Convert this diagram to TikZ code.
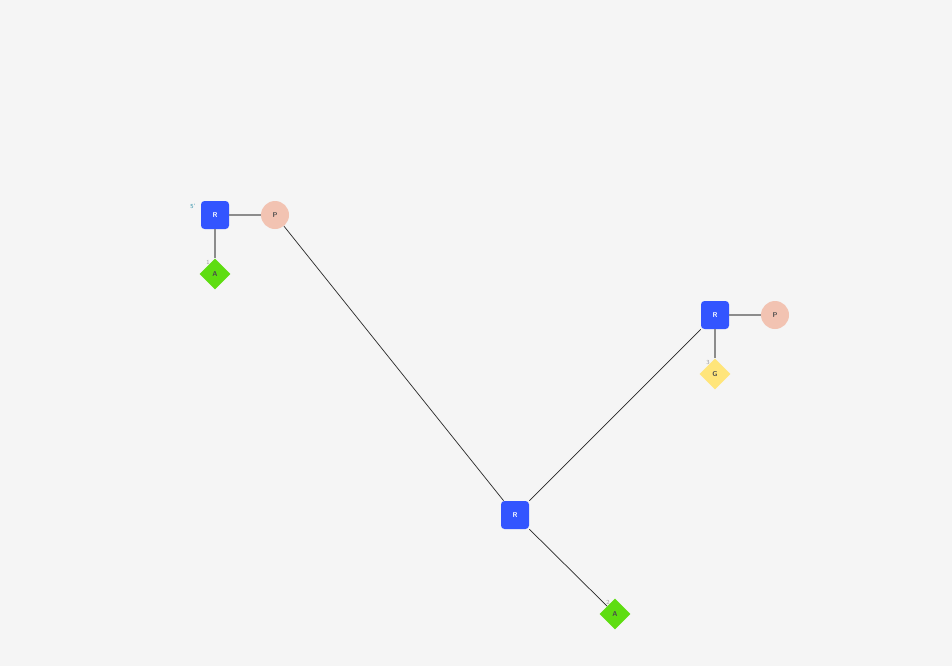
\documentclass[tikz,border=0pt]{standalone}
\usepackage{tikz}
\usetikzlibrary{shapes.geometric}
\definecolor{bgcol}{HTML}{F5F5F5}
\definecolor{rcol}{HTML}{3355FF}
\definecolor{pcol}{HTML}{F2C3B2}
\definecolor{acol}{HTML}{5EDD10}
\definecolor{gcol}{HTML}{FFE57A}
\definecolor{endcol}{HTML}{2F8FA8}
\tikzset{
    tinyfont/.style = {font=\fontsize{4}{5}\selectfont\sffamily\bfseries},
    rbox/.style={
        rectangle, rounded corners=2pt,
        fill=rcol, text=white,
        minimum width=28*0.02cm, minimum height=28*0.02cm,
        inner sep=0pt, tinyfont},
    pdot/.style={
        circle, fill=pcol, text=black!70,
        minimum size=28*0.02cm, inner sep=0pt, tinyfont},
    basegem/.style={
        diamond, text=black!70,
        minimum width=31*0.02cm, minimum height=31*0.02cm,
        inner sep=0pt, tinyfont},
  stem/.style={draw=black!45, line width=1pt},
  link/.style={draw=black!85, line width=0.4pt},
  numlab/.style={font=\fontsize{3.5}{4}\selectfont\sffamily, text=black!40},
}

\begin{document}
\begin{tikzpicture}[x=0.02cm, y=-0.02cm]

  \fill[bgcol] (0,0) rectangle (952,666);
  \useasboundingbox (0,0) rectangle (952,666);

  %% Draw Residues
  \foreach \n/\x/\y in {r1/215/215, r2/715/315, r3/515/515}{
    \node[rbox] (\n) at (\x,\y) {R};
  }
  \foreach \n/\x/\y in {p1/275/215, p2/775/315}{
    \node[pdot] (\n) at (\x,\y) {P};
  }
  \node[basegem, fill=acol] (a1) at (215,274) {A};
  \node[basegem, fill=gcol] (g2) at (715,374) {G};
  \node[basegem, fill=acol] (a3) at (615,614) {A};

  %% Draw Bonds
  \draw[stem] (r1) -- (p1);
  \draw[stem] (r1) -- (a1);
  \draw[stem] (r2) -- (p2);
  \draw[stem] (r2) -- (g2);
  \draw[link] (p1) -- (r3);
  \draw[link] (r3) -- (r2);
  \draw[link] (r3) -- (a3);

  %% Draw Labels
  \node[numlab, text=endcol] (end5) at (193,206) {5'};
  \foreach \n/\x/\y/\t in {l1/208/262/1, l3/708/362/3, l2/608/602/2}{
    \node[numlab] (\n) at (\x,\y) {\t};
  }

\end{tikzpicture}
\end{document}
